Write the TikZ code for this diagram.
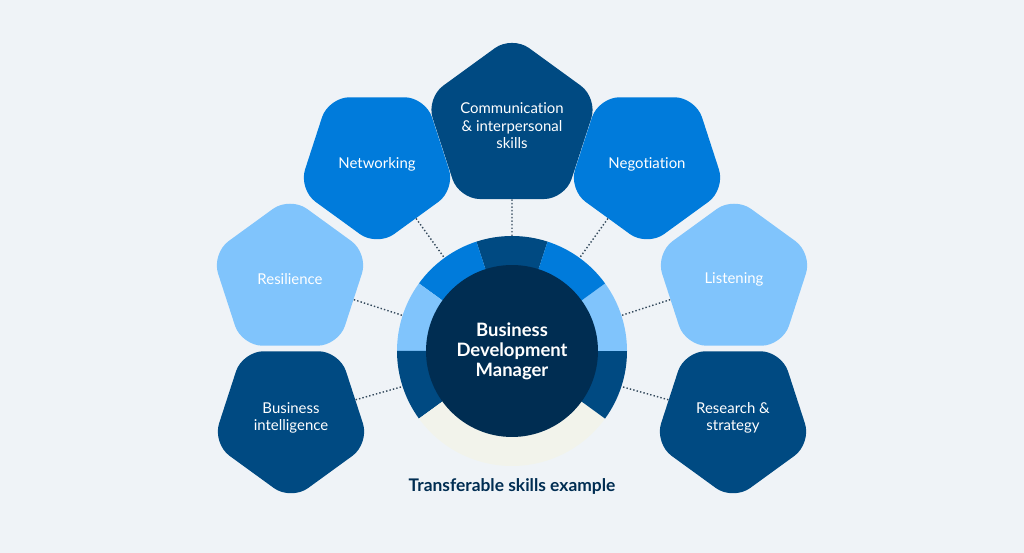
\documentclass[tikz,border=0pt]{standalone}
\usepackage{fontspec}
\setmainfont{Lato}[Ligatures=NoCommon]
\usepackage{tikz}
\usetikzlibrary{shapes.geometric}
\definecolor{bgcol}{HTML}{EFF3F7}
\definecolor{navy}{HTML}{002D52}
\definecolor{dkblue}{HTML}{004A82}
\definecolor{mdblue}{HTML}{007BDB}
\definecolor{ltblue}{HTML}{80C4FC}
\definecolor{cream}{HTML}{F2F3EB}
\definecolor{dotcol}{HTML}{34495C}
\tikzset{
	pent/.style={regular polygon, regular polygon sides=5, minimum size=3.3cm, inner sep=0pt, rounded corners=0.42cm, text=white, align=center, font=\fontsize{8.5}{10}\selectfont},
	pentdown/.style={pent, shape border rotate=180},
	link/.style={dotcol, line width=0.8pt, dash pattern=on 0.8pt off 1.2pt}
}

\begin{document}
\begin{tikzpicture}[x=0.02cm, y=0.02cm]
		\fill[bgcol] (0,0) rectangle (1024,553);
		\useasboundingbox (0,0) rectangle (1024,553);
		\foreach \a/\d/\c in {72/36/dkblue, 108/36/mdblue, 144/36/ltblue, 180/36/dkblue, 216/108/cream, 324/36/dkblue, 0/36/ltblue, 36/36/mdblue}
			\fill[\c] (512,202) -- ++(\a:115) arc[start angle=\a, delta angle=\d, radius=115] -- cycle;
		\node[circle, fill=navy, minimum size=3.44cm, text=white, align=center, font=\fontsize{10.5}{11.4}\selectfont\bfseries] (mgr) at (512,202) {Business\\Development\\Manager};
		\node[pent, fill=dkblue] (comm) at (512,427) {Communication\\\& interpersonal\\skills};
		\node[pentdown, fill=mdblue] (net) at (377,389) {Networking};
		\node[pentdown, fill=mdblue] (neg) at (647,389) {Negotiation};
		\node[pent, fill=ltblue] (res) at (290,274) {Resilience};
		\node[pent, fill=ltblue] (lis) at (734,274) {Listening};
		\node[pentdown, fill=dkblue] (bi) at (291,135) {Business\\intelligence};
		\node[pentdown, fill=dkblue] (rs) at (733,135) {Research \&\\strategy};
		\foreach \a in {90,126,162,198,342,18,54}
			\path (mgr.center) ++(\a:115) coordinate (r\a);
		\draw[link] (comm) -- (r90);
		\draw[link] (net) -- (r126);
		\draw[link] (neg) -- (r54);
		\draw[link] (res) -- (r162);
		\draw[link] (lis) -- (r18);
		\draw[link] (bi) -- (r198);
		\draw[link] (rs) -- (r342);
		\node[text=navy, font=\fontsize{9.9}{11}\selectfont\bfseries] (cap) at (512,66) {Transferable skills example};
	\end{tikzpicture}
\end{document}
